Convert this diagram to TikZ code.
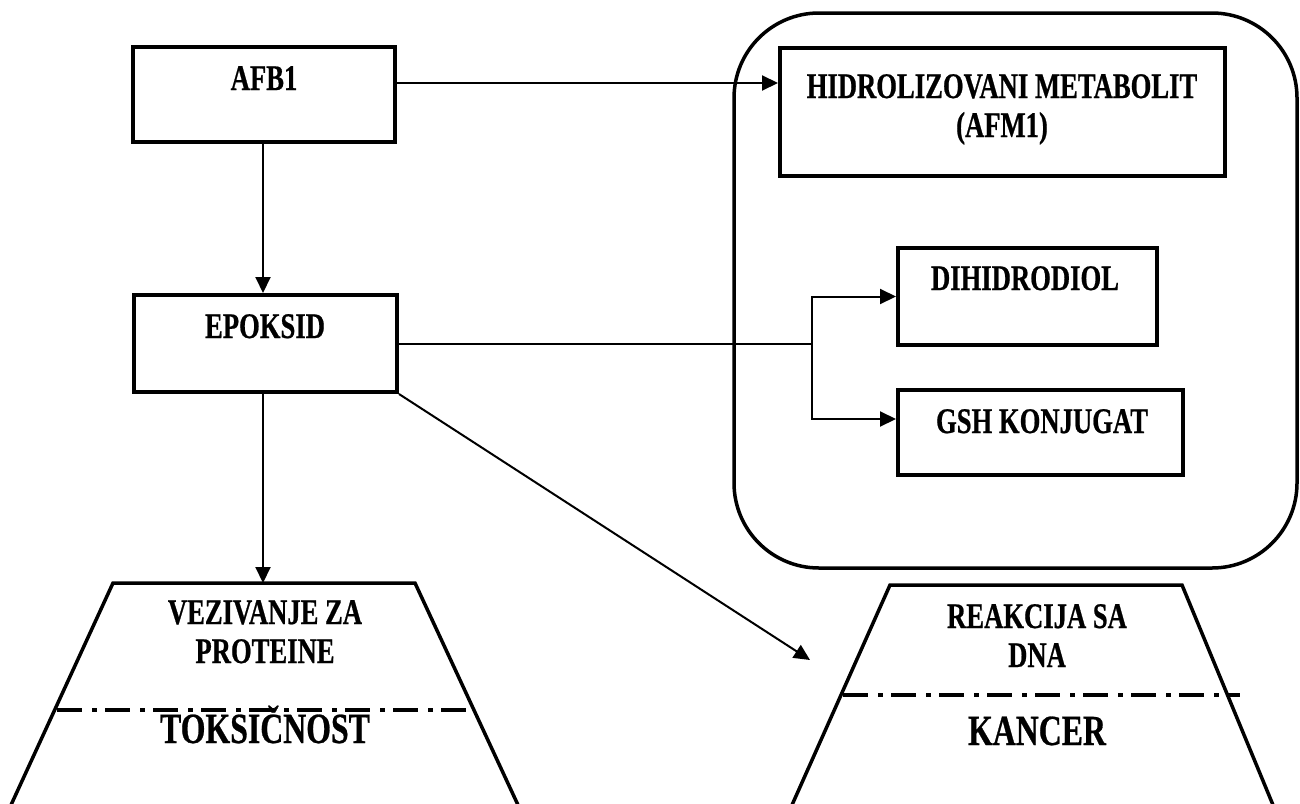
\documentclass[tikz,border=0pt]{standalone}
\usepackage{fontspec}
\setmainfont{Liberation Serif}[FakeStretch=0.74,BoldFeatures={FakeBold=0.6}]
\usetikzlibrary{arrows.meta,calc}
\begin{document}
\begin{tikzpicture}[x=1pt,y=-1pt,
  box/.style={draw,line width=4pt,inner sep=0pt},
  txt/.style={anchor=base,inner sep=0pt,align=center,font=\bfseries\fontsize{36}{39}\selectfont},
  bigtxt/.style={anchor=base,inner sep=0pt,align=center,font=\bfseries\fontsize{43}{46}\selectfont},
  arr/.style={line width=2pt,-{Triangle[length=16pt,width=15pt]}},
  conn/.style={line width=2pt},
  trap/.style={line width=3.5pt,line join=miter},
  sep/.style={line width=4pt,dash pattern=on 25pt off 10pt on 5pt off 8pt}]
\useasboundingbox (0,0) rectangle (1300,803);
\clip (0,0) rectangle (1300,803);

% group of detoxification products
\node[draw,line width=3.5pt,rounded corners=85pt,minimum width=563pt,minimum height=555pt] (grp) at (1015.5,290.5) {};

% boxes (two-line labels are anchored at the baseline of their last line)
\node[box,minimum width=262pt,minimum height=95pt] (afb1) at (264,94.5) {};
\node[txt] (afb1t) at (264,90) {AFB1};

\node[box,minimum width=445pt,minimum height=128pt] (hid) at (1002.5,112) {};
\node[txt] (hidt) at (1002,137) {HIDROLIZOVANI METABOLIT\\(AFM1)};

\node[box,minimum width=263pt,minimum height=97pt] (epok) at (265.5,343.5) {};
\node[txt] (epokt) at (265,338) {EPOKSID};

\node[box,minimum width=259pt,minimum height=97pt] (dih) at (1027.5,296.5) {};
\node[txt] (diht) at (1025,290) {DIHIDRODIOL};

\node[box,minimum width=285pt,minimum height=85pt] (gsh) at (1040.5,432.5) {};
\node[txt] (gsht) at (1042,433) {GSH KONJUGAT};

% trapezoids (outcomes)
\coordinate (ta1) at (113,583);
\coordinate (tb1) at (415,583);
\coordinate (tc1) at (518,805);
\coordinate (td1) at (11,805);
\coordinate (tz1top) at (263,583);
\draw[trap] (td1) -- (ta1) -- (tb1) -- (tc1);
\draw[sep] (57,710) -- (471,710);
\node[txt] (vez) at (265,663) {VEZIVANJE ZA\\PROTEINE};
\node[bigtxt] (tox) at (265,743) {TOKSIČNOST};

\coordinate (ta2) at (890,585);
\coordinate (tb2) at (1182,585);
\coordinate (tc2) at (1273,805);
\coordinate (td2) at (792,805);
\coordinate (dnain) at (810,660);
\draw[trap] (td2) -- (ta2) -- (tb2) -- (tc2);
\draw[sep] (843,695) -- (1240,695);
\node[txt] (rea) at (1037,667) {REAKCIJA SA\\DNA};
\node[bigtxt] (kan) at (1037,745) {KANCER};

% connectors
\draw[arr] (afb1.east |- 0,83) -- (hid.west |- 0,83);
\draw[arr] (afb1.south -| 263,0) -- (epok.north -| 263,0);
\coordinate (j) at (812,343.5);
\draw[conn] (epok.east) -- (j);
\draw[arr] (j) |- (dih.west);
\draw[arr] (j) |- ($(gsh.north west)+(0,31)$);
\draw[arr] (epok.south -| tz1top) -- (tz1top);
\draw[arr] (epok.south east) -- (dnain);
\end{tikzpicture}
\end{document}
